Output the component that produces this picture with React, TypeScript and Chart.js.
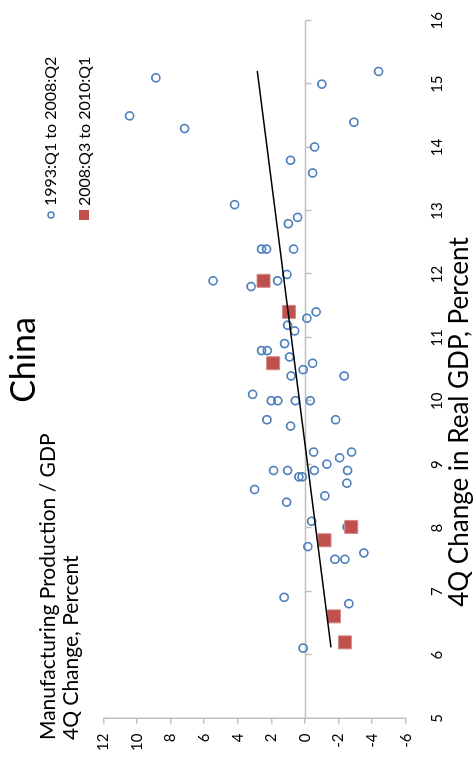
import React, { useEffect, useRef } from "react";
import { Chart, registerables } from "chart.js";

Chart.register(...registerables);

// ---- data ----
const chartTitle = "China";
const seriesLabels = ["1993:Q1 to 2008:Q2", "2008:Q3 to 2010:Q1"];
const yTitleLines = ["Manufacturing Production / GDP", "4Q Change, Percent"];
const xTitle = "4Q Change in Real GDP, Percent";

// 1993:Q1 to 2008:Q2 (real GDP 4Q change, manufacturing production / GDP 4Q change)
const gdpEarly = [
  15.1, 14.5, 14.3, 15.0, 15.2, 14.4, 14.01, 13.8, 13.6, 13.1,
  12.9, 12.8, 12.4, 12.4, 12.4, 12.0, 11.9, 11.9, 11.81, 11.41,
  11.31, 11.2, 11.11, 10.91, 10.8, 10.8, 10.7, 10.6, 10.5, 10.4,
  10.4, 10.11, 10.01, 10.01, 10.01, 10.01, 9.71, 9.71, 9.61, 9.2,
  9.2, 9.11, 9.01, 8.91, 8.91, 8.91, 8.91, 8.81, 8.81, 8.71,
  8.61, 8.51, 8.41, 8.11, 8.02, 7.71, 7.61, 7.51, 7.51, 6.91,
  6.81, 6.11,
];
const mfgEarly = [
  8.87, 10.43, 7.16, -1.01, -4.39, -2.92, -0.58, 0.85, -0.46, 4.18,
  0.43, 0.99, 2.58, 2.28, 0.67, 1.07, 5.46, 1.63, 3.2, -0.67,
  -0.12, 1.03, 0.61, 1.21, 2.58, 2.24, 0.91, -0.46, 0.1, 0.82,
  -2.34, 3.11, 2.0, 1.61, 0.56, -0.32, 2.26, -1.83, 0.85, -0.52,
  -2.78, -2.07, -1.31, 1.86, 1.03, -0.56, -2.54, 0.36, 0.16, -2.5,
  2.99, -1.19, 1.09, -0.4, -2.52, -0.18, -3.51, -1.79, -2.38, 1.23,
  -2.62, 0.1,
];

// 2008:Q3 to 2010:Q1
const gdpLate = [11.9, 11.41, 10.6, 8.02, 7.81, 6.61, 6.2];
const mfgLate = [2.46, 0.95, 1.89, -2.76, -1.17, -1.73, -2.38];

// trend line end points
const trendGdp = [6.12, 15.21];
const trendMfg = [-1.55, 2.84];

// axes
const gdpMin = 5;
const gdpMax = 16;
const gdpStep = 1;
const mfgMin = -6;
const mfgMax = 12;
const mfgStep = 2;

// ---- styles ----
const W = 761;
const H = 473;
const AXIS = "#BFBFBF";
const BLUE = "#4F81BD";
const RED = "#C0504D";
const FONT = "Lato, 'Open Sans', sans-serif";

const zip = (xs: number[], ys: number[]) => xs.map((x, i) => ({ x, y: ys[i] }));

const annotations = {
  id: "annotations",
  beforeDatasetsDraw(chart: any) {
    const { ctx } = chart;
    const xs = chart.scales.x;
    const ys = chart.scales.y;
    const y0 = Math.round(ys.getPixelForValue(0)) + 0.5;
    ctx.save();
    ctx.strokeStyle = AXIS;
    ctx.lineWidth = 1.5;
    ctx.beginPath();
    ctx.moveTo(xs.getPixelForValue(gdpMin), y0);
    ctx.lineTo(xs.getPixelForValue(gdpMax), y0);
    for (let v = gdpMin + gdpStep; v <= gdpMax; v += gdpStep) {
      const px = Math.round(xs.getPixelForValue(v)) + 0.5;
      ctx.moveTo(px, y0);
      ctx.lineTo(px, y0 + 6);
    }
    ctx.stroke();
    ctx.restore();
  },
  afterDraw(chart: any) {
    const { ctx } = chart;
    ctx.save();
    ctx.fillStyle = "#000";
    ctx.textBaseline = "alphabetic";

    // title
    ctx.font = `34px ${FONT}`;
    ctx.textAlign = "center";
    ctx.fillText(chartTitle, 401, 35);

    // y axis title (two lines, top-left)
    ctx.font = `21px ${FONT}`;
    ctx.textAlign = "left";
    ctx.fillText(yTitleLines[0], 21, 55);
    ctx.fillText(yTitleLines[1], 21, 78);

    // x axis title
    ctx.font = `26px ${FONT}`;
    ctx.textAlign = "center";
    ctx.fillText(xTitle, 339, 468);

    // legend
    ctx.font = `16px ${FONT}`;
    ctx.textAlign = "left";
    const ds = chart.data.datasets;
    ctx.strokeStyle = BLUE;
    ctx.lineWidth = 1.5;
    ctx.beginPath();
    ctx.arc(546, 51, 3, 0, Math.PI * 2);
    ctx.stroke();
    ctx.fillText(ds[2].label, 555, 56);
    ctx.fillStyle = RED;
    ctx.fillRect(541, 79, 10, 10);
    ctx.fillStyle = "#000";
    ctx.fillText(ds[1].label, 555, 90);
    ctx.restore();
  },
};

export default function App() {
  const ref = useRef<HTMLCanvasElement>(null);
  useEffect(() => {
    document.body.style.margin = "0";
    document.body.style.overflow = "hidden";
    const canvas = ref.current;
    if (!canvas) return;
    const tickFont = { family: FONT, size: 15 };
    const chart = new Chart(canvas, {
      type: "scatter",
      data: {
        datasets: [
          {
            label: "trend",
            data: zip(trendGdp, trendMfg),
            showLine: true,
            borderColor: "#000",
            borderWidth: 1.5,
            pointRadius: 0,
            fill: false,
            order: 0,
          } as any,
          {
            label: seriesLabels[1],
            data: zip(gdpLate, mfgLate),
            pointStyle: "rect",
            pointRadius: 9.2,
            backgroundColor: RED,
            borderColor: "#D28A88",
            borderWidth: 1,
            order: 1,
          },
          {
            label: seriesLabels[0],
            data: zip(gdpEarly, mfgEarly),
            pointStyle: "circle",
            pointRadius: 4,
            backgroundColor: "rgba(0,0,0,0)",
            borderColor: BLUE,
            borderWidth: 1.75,
            order: 2,
          },
        ],
      },
      options: {
        responsive: false,
        animation: false,
        devicePixelRatio: 1,
        layout: { padding: { left: 0, right: 20.7, top: 103.3, bottom: 0 } },
        plugins: {
          legend: { display: false },
          title: { display: false },
          tooltip: { enabled: false },
        },
        scales: {
          x: {
            type: "linear",
            position: "bottom",
            min: gdpMin,
            max: gdpMax,
            ticks: { stepSize: gdpStep, padding: 22, color: "#000", font: tickFont, maxRotation: 0 },
            grid: { display: false, drawTicks: false },
            border: { display: false },
            afterFit: (s: any) => {
              s.height = H - 405.7;
              s.paddingLeft = 0;
              s.paddingRight = 0;
            },
          },
          y: {
            type: "linear",
            position: "left",
            min: mfgMin,
            max: mfgMax,
            ticks: { stepSize: mfgStep, padding: 10, color: "#000", font: tickFont },
            grid: { drawOnChartArea: false, drawTicks: true, tickLength: 5, color: AXIS, lineWidth: 1.5 },
            border: { display: true, color: AXIS, width: 1.5 },
            afterFit: (s: any) => {
              s.width = 42.5;
              s.paddingTop = 0;
              s.paddingBottom = 0;
            },
          },
        },
      } as any,
      plugins: [annotations],
    });
    return () => chart.destroy();
  }, []);

  return (
    <div
      style={{
        position: "absolute",
        left: 0,
        top: 0,
        width: W,
        height: H,
        background: "#fff",
        transform: `translate(0px, ${W}px) rotate(-90deg)`,
        transformOrigin: "0 0",
      }}
    >
      <canvas ref={ref} width={W} height={H} style={{ display: "block", width: W, height: H }} />
    </div>
  );
}
